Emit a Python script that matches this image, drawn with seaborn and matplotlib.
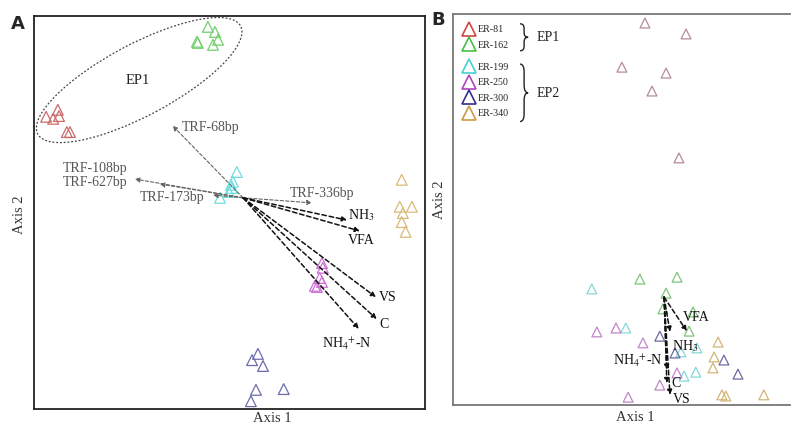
import pandas as pd
import seaborn as sns
import matplotlib.pyplot as plt
from matplotlib.patches import Ellipse, PathPatch
from matplotlib.path import Path
from matplotlib.lines import Line2D

groups = ['ER-81', 'ER-162', 'ER-199', 'ER-250', 'ER-300', 'ER-340']

# panel A sample scores (arbitrary ordination units)
a_x = [3.1, 4.9, 6.1, 6.4, 8.4, 9.2,
       44.5, 46.3, 47.1, 41.7, 45.8, 41.9,
       51.9, 50.9, 50.6, 49.9, 47.6, 50.4,
       73.7, 73.9, 73.1, 73.7, 71.9, 72.4,
       57.3, 55.8, 58.6, 56.8, 63.9, 55.5,
       94.1, 93.6, 96.7, 94.4, 94.1, 95.1]
a_y = [74.7, 74.2, 76.5, 74.9, 70.8, 70.8,
       97.7, 96.4, 94.4, 93.9, 93.1, 93.6,
       60.6, 58.1, 56.5, 55.5, 54.0, 57.3,
       37.3, 36.1, 33.5, 32.5, 31.5, 31.2,
       14.1, 12.5, 11.0, 4.9, 5.1, 2.0,
       58.6, 51.7, 51.7, 50.1, 47.8, 45.3]
a_group = ['ER-81'] * 6 + ['ER-162'] * 6 + ['ER-199'] * 6 + \
          ['ER-250'] * 6 + ['ER-300'] * 6 + ['ER-340'] * 6

# panel A biplot vectors
a_origin = (53.5, 54.0)
a_vec_names = ['TRF-68bp', 'TRF-627bp', 'TRF-108bp', 'TRF-173bp', 'TRF-336bp',
               r'NH$_3$', 'VFA', 'VS', 'C', r'NH$_4$$^{+}$-N']
a_vec_x = [35.5, 25.8, 32.2, 45.8, 71.1, 80.1, 83.4, 87.5, 87.7, 83.1]
a_vec_y = [72.4, 58.8, 57.5, 54.7, 52.7, 48.3, 45.5, 28.6, 23.0, 20.5]

# panel B sample scores
b_x = [49.1, 59.6, 43.2, 54.5, 50.9, 57.8,
       47.8, 57.3, 54.5, 53.7, 61.4, 60.4,
       35.5, 44.2, 58.3, 62.4, 62.1, 59.1,
       36.8, 41.7, 48.6, 57.3, 52.9, 44.8,
       52.9, 56.8, 69.3, 72.9,
       67.8, 66.8, 66.5, 68.8, 69.8, 79.5]
b_y = [97.7, 94.9, 86.4, 84.9, 80.3, 63.2,
       32.2, 32.7, 28.6, 24.6, 23.8, 18.9,
       29.7, 19.7, 13.6, 14.6, 8.4, 7.4,
       18.7, 19.7, 15.9, 8.2, 5.1, 2.0,
       17.6, 13.3, 11.5, 7.9,
       16.1, 12.3, 9.5, 2.6, 2.3, 2.6]
b_group = ['ER-81'] * 6 + ['ER-162'] * 6 + ['ER-199'] * 6 + \
          ['ER-250'] * 6 + ['ER-300'] * 4 + ['ER-340'] * 6

b_origin = (54.0, 27.6)
b_vec_names = ['VFA', r'NH$_3$', r'NH$_4$$^{+}$-N', 'C', 'VS']
b_vec_x = [59.8, 55.5, 54.7, 54.7, 55.5]
b_vec_y = [18.9, 18.7, 9.0, 5.6, 2.6]

# styling / layout
pal_a = ['#cc6a6a', '#72cf6a', '#6fdede', '#cf6fd6', '#6c6cac', '#d9bb78']
pal_b = ['#b58c98', '#80c47c', '#86d8d8', '#c484cc', '#6a6aa2', '#d4b476']
pal_leg = ['#d04545', '#45c045', '#45d0d0', '#b045c0', '#303090', '#d09845']
a_lab_pos = [(37.9, 71.9, 'left'), (7.4, 57.8, 'left'), (7.4, 61.6, 'left'),
             (27.1, 54.2, 'left'), (65.5, 55.0, 'left'), (80.3, 49.6, 'left'),
             (80.3, 43.2, 'left'), (88.2, 28.6, 'left'), (88.5, 21.7, 'left'),
             (73.7, 16.6, 'left')]
b_lab_pos = [(58.8, 22.3, 'left'), (56.0, 15.1, 'left'), (53.7, 11.3, 'right'),
             (55.8, 5.4, 'left'), (56.3, 1.5, 'left')]

sns.set_style('white')
plt.rcParams['font.family'] = ['Liberation Serif', 'DejaVu Serif']
plt.rcParams['mathtext.fontset'] = 'stix'

fig = plt.figure(figsize=(7.91, 4.25), dpi=100)
ax_a = fig.add_axes([0.043, 0.0376, 0.494, 0.925])
ax_b = fig.add_axes([0.5727, 0.047, 0.426, 0.92])


def hollow_scatter(ax, df, pal, size):
    sns.scatterplot(data=df, x='x', y='y', hue='group', hue_order=groups,
                    palette=pal, marker='^', s=size, legend=False, ax=ax)
    coll = ax.collections[-1]
    coll.set_edgecolors(coll.get_facecolors())
    coll.set_facecolors('none')
    coll.set_linewidths(0.9)


def draw_arrow(ax, origin, end, color, lw):
    ax.annotate('', xy=end, xytext=origin,
                arrowprops=dict(arrowstyle='-|>', color=color, lw=lw,
                                ls=(0, (3, 1.8)), mutation_scale=7,
                                shrinkA=0, shrinkB=0))


def brace(ax, x0, w, y_top, y_bot, color='#222222'):
    ym = (y_top + y_bot) / 2
    r = min(0.02, (y_top - y_bot) / 6)
    verts = [(x0, y_top), (x0 + w, y_top), (x0 + w, y_top - r),
             (x0 + w, ym + r), (x0 + w, ym), (x0 + 2 * w, ym),
             (x0 + w, ym), (x0 + w, ym - r),
             (x0 + w, y_bot + r), (x0 + w, y_bot), (x0, y_bot)]
    codes = [Path.MOVETO, Path.CURVE3, Path.CURVE3,
             Path.LINETO, Path.CURVE3, Path.CURVE3,
             Path.CURVE3, Path.CURVE3,
             Path.LINETO, Path.CURVE3, Path.CURVE3]
    ax.add_patch(PathPatch(Path(verts, codes), fc='none', ec=color, lw=1.0,
                           transform=ax.transAxes, clip_on=False))


# ---------------- panel A ----------------
df_a = pd.DataFrame({'x': a_x, 'y': a_y, 'group': a_group})
hollow_scatter(ax_a, df_a, pal_a, 60)
ax_a.add_patch(Ellipse((26.9, 84.1), 58.8, 18.3, angle=28, fc='none',
                       ec='#444444', lw=0.9, ls=(0, (1.5, 1.5))))
ax_a.text(26.6, 83.9, 'EP1', fontsize=10.5, ha='center', va='center',
          color='#222222')
for name, ex, ey, (lx, ly, ha) in zip(a_vec_names, a_vec_x, a_vec_y, a_lab_pos):
    trf = name.startswith('TRF')
    draw_arrow(ax_a, a_origin, (ex, ey), '#666666' if trf else '#111111',
               0.8 if trf else 1.1)
    ax_a.text(lx, ly, name, fontsize=10, ha=ha, va='center',
              color='#555555' if trf else '#111111')
ax_a.set_xlim(0, 100)
ax_a.set_ylim(0, 100.5)
ax_a.set_xticks([])
ax_a.set_yticks([])
ax_a.set_xlabel('')
ax_a.set_ylabel('')
for sp in ax_a.spines.values():
    sp.set_color('#222222')
    sp.set_linewidth(1.3)

# ---------------- panel B ----------------
df_b = pd.DataFrame({'x': b_x, 'y': b_y, 'group': b_group})
hollow_scatter(ax_b, df_b, pal_b, 50)
for name, ex, ey, (lx, ly, ha) in zip(b_vec_names, b_vec_x, b_vec_y, b_lab_pos):
    draw_arrow(ax_b, b_origin, (ex, ey), '#111111', 1.1)
    ax_b.text(lx, ly, name, fontsize=10, ha=ha, va='center', color='#111111')
ax_b.set_xlim(0, 86.2)
ax_b.set_ylim(0, 100)
ax_b.set_xticks([])
ax_b.set_yticks([])
ax_b.set_xlabel('')
ax_b.set_ylabel('')
for sp in ax_b.spines.values():
    sp.set_color('#777777')
    sp.set_linewidth(1.3)
ax_b.spines['right'].set_visible(False)

# legend (two blocks, EP1 / EP2)
handles = [Line2D([], [], ls='none', marker='^', ms=10, mfc='none', mec=c,
                  mew=1.2, label=g) for g, c in zip(groups, pal_leg)]
leg_kw = dict(loc='upper left', frameon=False, fontsize=7.2,
              handletextpad=0.3, labelspacing=0.65, borderaxespad=0,
              handlelength=1.2)
leg1 = ax_b.legend(handles=handles[:2], bbox_to_anchor=(0.018, 0.982), **leg_kw)
ax_b.add_artist(leg1)
ax_b.legend(handles=handles[2:], bbox_to_anchor=(0.018, 0.885), **leg_kw)
brace(ax_b, 0.199, 0.012, 0.975, 0.906)
brace(ax_b, 0.199, 0.012, 0.872, 0.725)
ax_b.text(0.249, 0.941, 'EP1', transform=ax_b.transAxes, fontsize=10,
          va='center', color='#222222')
ax_b.text(0.249, 0.798, 'EP2', transform=ax_b.transAxes, fontsize=10,
          va='center', color='#222222')

# panel letters and axis titles
fig.text(0.023, 0.944, 'A', fontsize=13, fontweight='bold', family='DejaVu Sans',
         ha='center', va='center')
fig.text(0.554, 0.953, 'B', fontsize=13, fontweight='bold', family='DejaVu Sans',
         ha='center', va='center')
fig.text(0.344, 0.016, 'Axis 1', fontsize=10.5, ha='center', va='center',
         color='#333333')
fig.text(0.025, 0.494, 'Axis 2', fontsize=10.5, ha='center', va='center',
         rotation=90, color='#333333')
fig.text(0.803, 0.017, 'Axis 1', fontsize=10.5, ha='center', va='center',
         color='#333333')
fig.text(0.556, 0.53, 'Axis 2', fontsize=10.5, ha='center', va='center',
         rotation=90, color='#333333')

plt.savefig('out.png', dpi=100)
plt.close('all')
